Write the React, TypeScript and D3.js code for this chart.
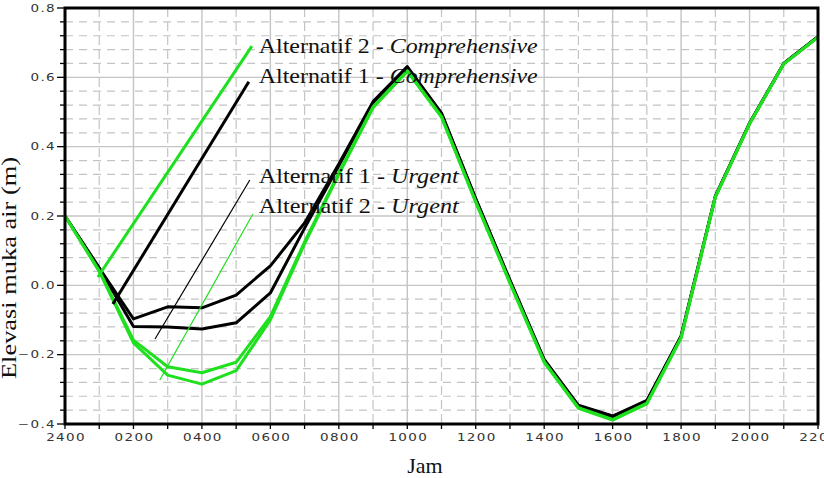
import { useRef, useEffect } from 'react'
import * as d3 from 'd3'

// hours after 2400 (0 = 2400, 22 = 2200)
const hours = d3.range(0, 23)
const xTickLabels = ["2400", "0200", "0400", "0600", "0800", "1000", "1200", "1400", "1600", "1800", "2000", "2200"]
const yTickValues = [-0.4, -0.2, 0.0, 0.2, 0.4, 0.6, 0.8]

// water level (m)
const alt1Comprehensive = [0.2, 0.05, -0.097, -0.062, -0.065, -0.028, 0.056, 0.18, 0.35, 0.53, 0.631, 0.497, 0.25, 0.015, -0.214, -0.346, -0.377, -0.332, -0.146, 0.257, 0.468, 0.64, 0.717]
const alt1Urgent = [0.2, 0.05, -0.119, -0.12, -0.126, -0.108, -0.022, 0.165, 0.345, 0.527, 0.629, 0.495, 0.248, 0.013, -0.216, -0.348, -0.379, -0.334, -0.148, 0.256, 0.467, 0.64, 0.717]
const alt2Comprehensive = [0.2, 0.042, -0.158, -0.235, -0.252, -0.222, -0.09, 0.125, 0.325, 0.515, 0.619, 0.487, 0.242, 0.008, -0.22, -0.353, -0.387, -0.34, -0.15, 0.255, 0.466, 0.639, 0.716]
const alt2Urgent = [0.2, 0.04, -0.166, -0.259, -0.285, -0.246, -0.1, 0.12, 0.32, 0.512, 0.617, 0.485, 0.24, 0.006, -0.222, -0.355, -0.389, -0.342, -0.152, 0.254, 0.466, 0.639, 0.716]

const GREEN = "#1ee01e"

const series = [
  { name: "Alternatif 1 - Comprehensive", values: alt1Comprehensive, color: "#000" },
  { name: "Alternatif 1 - Urgent", values: alt1Urgent, color: "#000" },
  { name: "Alternatif 2 - Comprehensive", values: alt2Comprehensive, color: GREEN },
  { name: "Alternatif 2 - Urgent", values: alt2Urgent, color: GREEN },
]

// leader-line labels, in data units (hour, metres)
const labels = [
  { alt: "Alternatif 2 - ", kind: "Comprehensive", color: GREEN, thick: true, from: [0.96, 0.024], to: [5.46, 0.69], text: 0.669 },
  { alt: "Alternatif 1 - ", kind: "Comprehensive", color: "#000", thick: true, from: [1.4, -0.054], to: [5.37, 0.587], text: 0.583 },
  { alt: "Alternatif 1 - ", kind: "Urgent", color: "#000", thick: false, from: [2.63, -0.155], to: [5.4, 0.304], text: 0.295 },
  { alt: "Alternatif 2 - ", kind: "Urgent", color: GREEN, thick: false, from: [2.77, -0.273], to: [5.49, 0.206], text: 0.209 },
]

const width = 824
const height = 478
const margin = { top: 8, right: 6, bottom: 54, left: 65 }

export default function App() {
  const svgRef = useRef<SVGSVGElement>(null)

  useEffect(() => {
    if (!svgRef.current) return
    const svg = d3.select(svgRef.current)
    svg.selectAll("*").remove()

    const x = d3.scaleLinear().domain([0, 22]).range([margin.left, width - margin.right])
    const y = d3.scaleLinear().domain([-0.4, 0.8]).range([height - margin.bottom, margin.top])

    const grid = svg.append("g")
    // vertical grid: solid on even hours, dashed on odd
    hours.forEach(h => {
      grid.append("line")
        .attr("x1", x(h)).attr("x2", x(h))
        .attr("y1", y(0.8)).attr("y2", y(-0.4))
        .attr("stroke", "#c4c4c4")
        .attr("stroke-width", h % 2 === 0 ? 1.4 : 1.2)
        .attr("stroke-dasharray", h % 2 === 0 ? null : "9,5")
    })
    // horizontal grid: solid every 0.2, dashed every 0.04
    d3.range(0, 31).forEach(i => {
      const v = -0.4 + i * 0.04
      const major = i % 5 === 0
      grid.append("line")
        .attr("x1", x(0)).attr("x2", x(22))
        .attr("y1", y(v)).attr("y2", y(v))
        .attr("stroke", "#c4c4c4")
        .attr("stroke-width", major ? 1.4 : 1.2)
        .attr("stroke-dasharray", major ? null : "8,6")
    })

    // ticks
    const ticks = svg.append("g").attr("stroke", "#000").attr("stroke-width", 1.3)
    d3.range(0, 31).forEach(i => {
      const v = -0.4 + i * 0.04
      ticks.append("line")
        .attr("x1", x(0) - (i % 5 === 0 ? 8 : 5)).attr("x2", x(0))
        .attr("y1", y(v)).attr("y2", y(v))
    })
    hours.forEach(h => {
      ticks.append("line")
        .attr("x1", x(h)).attr("x2", x(h))
        .attr("y1", y(-0.4)).attr("y2", y(-0.4) + 5)
    })

    // tick labels
    const tickFont = (sel: d3.Selection<SVGTextElement, unknown, null, undefined>) =>
      sel.attr("font-family", "DejaVu Sans").attr("font-size", 10).attr("letter-spacing", 1).attr("fill", "#333")

    xTickLabels.forEach((label, i) => {
      svg.append("text")
        .attr("transform", `translate(${x(i * 2) + 1},441) scale(1.35,1)`)
        .attr("text-anchor", "middle")
        .call(tickFont)
        .text(label)
    })
    yTickValues.forEach(v => {
      svg.append("text")
        .attr("transform", `translate(${x(0) - 9},${y(v)}) scale(1.35,1)`)
        .attr("text-anchor", "end")
        .attr("dy", "0.36em")
        .call(tickFont)
        .text(d3.format(".1f")(v))
    })

    // series
    const line = d3.line<number>().x((_, i) => x(hours[i])).y(d => y(d))
    series.forEach(s => {
      svg.append("path")
        .datum(s.values)
        .attr("d", line)
        .attr("fill", "none")
        .attr("stroke", s.color)
        .attr("stroke-width", 3)
        .attr("stroke-linejoin", "round")
    })

    // labels with leader lines
    labels.forEach(l => {
      svg.append("line")
        .attr("x1", x(l.from[0])).attr("y1", y(l.from[1]))
        .attr("x2", x(l.to[0])).attr("y2", y(l.to[1]))
        .attr("stroke", l.color)
        .attr("stroke-width", l.thick ? 3 : 1.2)
      const t = svg.append("text")
        .attr("x", x(5.66))
        .attr("y", y(l.text))
        .attr("font-family", "Liberation Serif")
        .attr("font-size", 22)
        .attr("fill", "#111")
        .attr("textLength", l.kind === "Urgent" ? 200 : 279)
        .attr("lengthAdjust", "spacingAndGlyphs")
      t.append("tspan").text(l.alt)
      t.append("tspan").attr("font-style", "italic").text(l.kind)
    })

    // frame
    svg.append("rect")
      .attr("x", x(0)).attr("y", y(0.8))
      .attr("width", x(22) - x(0)).attr("height", y(-0.4) - y(0.8))
      .attr("fill", "none")
      .attr("stroke", "#000")
      .attr("stroke-width", 3)

    // axis titles
    svg.append("text")
      .attr("x", 425).attr("y", 473)
      .attr("text-anchor", "middle")
      .attr("font-family", "Liberation Serif")
      .attr("font-size", 22)
      .attr("fill", "#111")
      .text("Jam")
    svg.append("text")
      .attr("transform", `translate(16,${y(0.05)}) rotate(-90)`)
      .attr("text-anchor", "middle")
      .attr("font-family", "Liberation Serif")
      .attr("font-size", 22)
      .attr("fill", "#111")
      .attr("textLength", 222)
      .attr("lengthAdjust", "spacingAndGlyphs")
      .text("Elevasi muka air (m)")
  }, [])

  return (
    <svg
      ref={svgRef}
      width={width}
      height={height}
      style={{ position: 'absolute', left: 0, top: 0, background: '#fff' }}
    />
  )
}
